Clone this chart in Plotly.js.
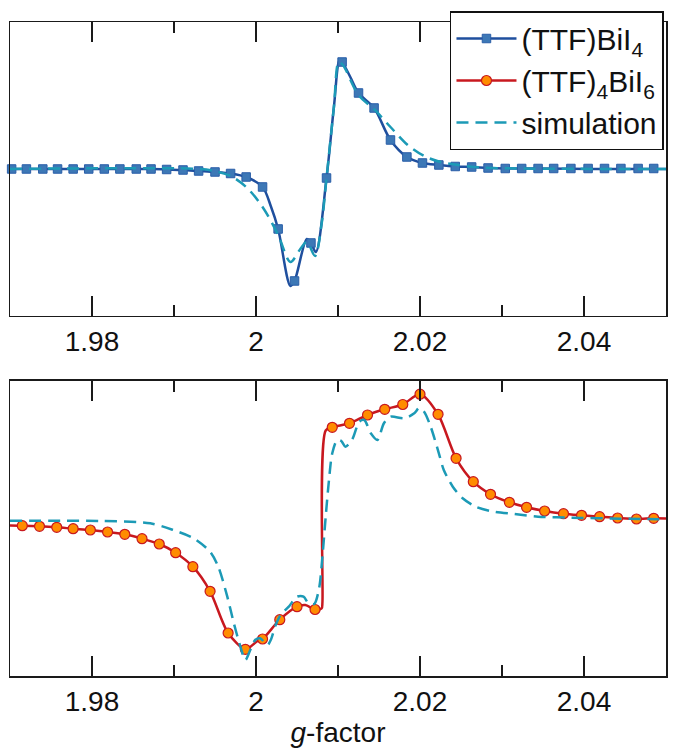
<!DOCTYPE html>
<html>
<head>
<meta charset="utf-8">
<script src="https://cdn.plot.ly/plotly-3.0.1.min.js"></script>
<style>html,body{margin:0;padding:0;background:#fff}#chart{width:675px;height:749px}</style>
</head>
<body>
<div id="chart"></div>
<script>
// ---- tick labels ----
var majorTicks = [1.98, 2.00, 2.02, 2.04];
var majorTickText = ["1.98", "2", "2.02", "2.04"];
var minorTicks = [1.99, 2.01, 2.03];

// ---- series names ----
var nameTop = "(TTF)BiI<sub>4</sub>";
var nameBot = "(TTF)<sub>4</sub>BiI<sub>6</sub>";
var nameSim = "simulation";

// ---- top panel: (TTF)BiI4 measured line ----
var topLineG = [1.9700,1.9720,1.9758,1.9796,1.9834,1.9872,1.9891,1.9911,1.9930,1.9950,1.9969,1.9988,2.0008,2.0018,2.0027,2.0042,2.0047,2.0062,2.0067,2.0073,2.0086,2.0095,2.0102,2.0105,2.0115,2.0125,2.0144,2.0164,2.0184,2.0203,2.0223,2.0243,2.0263,2.0283,2.0304,2.0344,2.0404,2.0501];
var topLineV = [0,0,0,0,0,0,-0.5,-1,-2,-3,-4.5,-8,-18,-37,-60,-117,-112,-70,-74,-83,-9,62,109,107,92,76,61,29,12,6,4,2.5,2,1,0.5,0.5,0,0];

// ---- top panel: (TTF)BiI4 markers ----
var topMarkG = [1.9702,1.9720,1.9740,1.9758,1.9777,1.9796,1.9815,1.9834,1.9854,1.9872,1.9891,1.9911,1.9930,1.9950,1.9969,1.9988,2.0008,2.0027,2.0047,2.0067,2.0086,2.0105,2.0125,2.0144,2.0164,2.0184,2.0203,2.0223,2.0243,2.0263,2.0283,2.0304,2.0324,2.0344,2.0363,2.0384,2.0405,2.0425,2.0445,2.0466,2.0485];
var topMarkV = [0,0,0,0,0,0,0,0,0,0,-0.5,-1,-2,-3,-4.5,-8,-18,-60,-112,-74,-9,107,76,61,29,12,6,4,2.5,2,1,0.5,0.5,0.5,0.5,0.5,0.5,0.5,0.5,0.5,0.5];

// ---- top panel: simulation ----
var topSimG = [1.9700,1.9932,1.9949,1.9969,1.9988,2.0008,2.0027,2.0042,2.0054,2.0062,2.0072,2.0080,2.0086,2.0095,2.0101,2.0106,2.0125,2.0145,2.0164,2.0185,2.0205,2.0225,2.0246,2.0274,2.0323,2.0501];
var topSimV = [0,0,-2,-7,-18,-38,-66,-93,-80,-73,-87,-55,-9,62,107,104,74,59,42,24,13,7,4,1.5,0.5,0];

// ---- bottom panel: (TTF)4BiI6 measured line ----
var botLineG = [1.9700,1.9715,1.9736,1.9757,1.9777,1.9798,1.9819,1.9840,1.9861,1.9882,1.9902,1.9923,1.9944,1.9966,1.9987,2.0001,2.0008,2.0029,2.0050,2.0060,2.0072,2.0080,2.0081,2.0085,2.0093,2.0114,2.0136,2.0157,2.0179,2.0200,2.0222,2.0244,2.0265,2.0286,2.0309,2.0330,2.0352,2.0375,2.0397,2.0419,2.0441,2.0464,2.0485,2.0500];
var botLineV = [3,2.8,2.2,1.2,-0.2,-1.5,-3.5,-5.8,-10.2,-15.5,-24.2,-38.2,-62.8,-104.5,-120.8,-113,-110.5,-91.2,-78.2,-76.5,-81,-80,-74,98,101.2,105.2,113.5,119.2,124,134.3,114.2,70.2,46.8,34.2,26.2,21.2,17.5,14.8,13.2,11.8,10.5,9.5,10.2,10];

// ---- bottom panel: (TTF)4BiI6 markers ----
var botMarkG = [1.9715,1.9736,1.9757,1.9777,1.9798,1.9819,1.9840,1.9861,1.9882,1.9902,1.9923,1.9944,1.9966,1.9987,2.0008,2.0029,2.0050,2.0072,2.0093,2.0114,2.0136,2.0157,2.0179,2.0200,2.0222,2.0244,2.0265,2.0286,2.0309,2.0330,2.0352,2.0375,2.0397,2.0419,2.0441,2.0464,2.0485];
var botMarkV = [2.8,2.2,1.2,-0.2,-1.5,-3.5,-5.8,-10.2,-15.5,-24.2,-38.2,-62.8,-104.5,-120.8,-110.5,-91.2,-78.2,-81,101.2,105.2,113.5,119.2,124,134.3,114.2,70.2,46.8,34.2,26.2,21.2,17.5,14.8,13.2,11.8,10.5,9.5,10.2];

// ---- bottom panel: simulation ----
var botSimG = [1.9700,1.9810,1.9871,1.9899,1.9924,1.9944,1.9954,1.9965,1.9973,1.9981,1.9987,1.9993,1.9999,2.0005,2.0014,2.0018,2.0024,2.0030,2.0040,2.0050,2.0058,2.0064,2.0071,2.0077,2.0081,2.0085,2.0089,2.0093,2.0099,2.0104,2.0109,2.0117,2.0126,2.0132,2.0140,2.0148,2.0156,2.0164,2.0181,2.0193,2.0199,2.0205,2.0213,2.0223,2.0229,2.0240,2.0252,2.0268,2.0290,2.0315,2.0344,2.0384,2.0445,2.0500];
var botSimV = [7.8,7.5,5.2,-1.5,-9.8,-23.2,-38.2,-68.2,-94.8,-118.2,-131.5,-121.5,-111.5,-109.8,-116.5,-111.5,-96.5,-86.5,-78.2,-68.2,-68.2,-74.8,-75.5,-59.5,-28.2,11.8,48.5,75.2,88.5,87.5,81.8,88.5,106.8,108.5,95.2,88.5,105.2,111.8,110.2,115.2,120.5,116.8,101.8,75.2,58.5,41.8,30.2,21.8,16.8,14.5,11.8,10.8,9.8,9.2];

// ---- styles ----
var blueLine = "#1f4f9e", blueFill = "#3d78b6", blueEdge = "#2a5ea8";
var redLine = "#c8181f", orangeFill = "#ff8c00";
var simColor = "#1c9ab6";
var simDash = "12px,7px";
var FONT = "Liberation Sans, Arial, Helvetica, sans-serif";

var traces = [
  // top panel
  {x: topLineG, y: topLineV, xaxis: "x2", yaxis: "y2", mode: "lines", showlegend: false,
   line: {color: blueLine, width: 2.5, shape: "spline", smoothing: 0.9}, hoverinfo: "skip"},
  {x: topMarkG, y: topMarkV, xaxis: "x2", yaxis: "y2", mode: "markers", showlegend: false, cliponaxis: false,
   marker: {symbol: "square", size: 8.5, color: blueFill, line: {color: blueEdge, width: 1}}},
  {x: topSimG, y: topSimV, xaxis: "x2", yaxis: "y2", mode: "lines", showlegend: false,
   line: {color: simColor, width: 2.5, dash: simDash, shape: "spline", smoothing: 0.9}},
  // bottom panel
  {x: botLineG, y: botLineV, xaxis: "x", yaxis: "y", mode: "lines", showlegend: false,
   line: {color: redLine, width: 2.5, shape: "spline", smoothing: 0.8}},
  {x: botMarkG, y: botMarkV, xaxis: "x", yaxis: "y", mode: "markers", showlegend: false, cliponaxis: false,
   marker: {symbol: "circle", size: 10, color: orangeFill, line: {color: redLine, width: 1.2}}},
  {x: botSimG, y: botSimV, xaxis: "x", yaxis: "y", mode: "lines", showlegend: false,
   line: {color: simColor, width: 2.5, dash: simDash, shape: "spline", smoothing: 0.8}},
  // legend entries
  {x: [null], y: [null], xaxis: "x2", yaxis: "y2", mode: "lines+markers", name: nameTop,
   line: {color: blueLine, width: 2.5}, marker: {symbol: "square", size: 8.5, color: blueFill, line: {color: blueEdge, width: 1}}},
  {x: [null], y: [null], xaxis: "x2", yaxis: "y2", mode: "lines+markers", name: nameBot,
   line: {color: redLine, width: 2.5}, marker: {symbol: "circle", size: 10, color: orangeFill, line: {color: redLine, width: 1.2}}},
  {x: [null], y: [null], xaxis: "x2", yaxis: "y2", mode: "lines", name: nameSim,
   line: {color: simColor, width: 2.5, dash: simDash}}
];

function xAxisCfg(anchor, withTitle) {
  var a = {
    anchor: anchor, range: [1.97, 2.05], tickmode: "array",
    tickvals: majorTicks, ticktext: majorTickText,
    ticks: "inside", ticklen: 20, tickwidth: 1.5, tickcolor: "#1a1a1a",
    minor: {tickmode: "array", tickvals: minorTicks, ticks: "inside", ticklen: 11, tickwidth: 1.5, tickcolor: "#1a1a1a", showgrid: false},
    showline: true, linecolor: "#1a1a1a", linewidth: 1.5, mirror: "ticks",
    showgrid: false, zeroline: false,
    tickfont: {size: 28, color: "#111", family: FONT}
  };
  if (withTitle) {
    a.title = {text: "<i>g</i>-factor", font: {size: 28, color: "#111", family: FONT}, standoff: 6};
  }
  return a;
}
function yAxisCfg(anchor, domain, range) {
  return {anchor: anchor, domain: domain, range: range, showticklabels: false, ticks: "",
    showline: true, linecolor: "#1a1a1a", linewidth: 1.5, mirror: true,
    showgrid: false, zeroline: false};
}

var layout = {
  width: 675, height: 749,
  margin: {l: 10, r: 9, t: 22, b: 73},
  paper_bgcolor: "#fff", plot_bgcolor: "#fff",
  font: {family: FONT, size: 28, color: "#111"},
  xaxis: xAxisCfg("y", true),
  yaxis: yAxisCfg("x", [0, 0.4511], [-147.5, 147.5]),
  xaxis2: xAxisCfg("y2", false),
  yaxis2: yAxisCfg("x2", [0.5505, 1], [-147, 147]),
  showlegend: true,
  legend: {x: 0.6707, y: 1.0168, xanchor: "left", yanchor: "top",
    bgcolor: "#fff", bordercolor: "#111", borderwidth: 1.5,
    font: {size: 30, family: FONT, color: "#111"}, itemwidth: 60, tracegroupgap: 0}
};

Plotly.newPlot("chart", traces, layout, {staticPlot: true, displayModeBar: false});
</script>
</body>
</html>
